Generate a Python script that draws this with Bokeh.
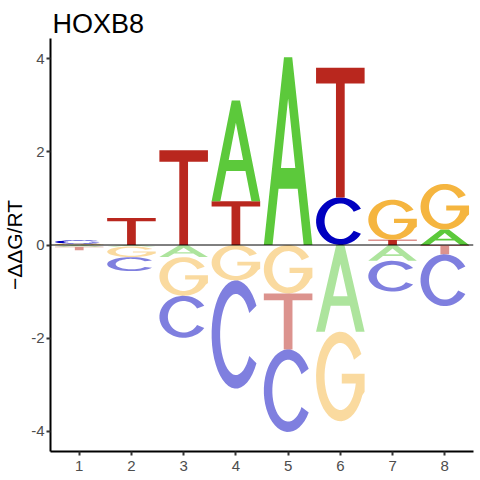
import numpy as np
from bokeh.plotting import figure
from bokeh.models import ColumnDataSource, Span, Range1d, FixedTicker
from bokeh.embed import file_html
from bokeh.resources import INLINE

# ---- data ----
positions = [1, 2, 3, 4, 5, 6, 7, 8]
A = [-0.04, -0.03, -0.26, 2.16, 4.03, -1.86, -0.34, 0.33]
C = [0.07, -0.30, -0.90, -2.32, -1.77, 1.02, -0.66, -1.11]
G = [0.03, -0.23, -0.83, -0.76, -1.04, -1.92, 0.86, 0.98]
T = [-0.07, 0.58, 2.03, 0.94, -1.20, 2.78, 0.11, -0.20]
x_ticks = [1, 2, 3, 4, 5, 6, 7, 8]
y_ticks = [-4, -2, 0, 2, 4]
title_text = "HOXB8"
y_label = "\u2212\u0394\u0394G/RT"

colors = {"A": "#5CC93B", "C": "#0000C0", "G": "#F5B53F", "T": "#B9271E"}
values = {"A": A, "C": C, "G": G, "T": T}

# ---- letter outlines in a unit box ----
def arc(cx, cy, rx, ry, a0, a1, n=40):
    t = np.radians(np.linspace(a0, a1, n))
    return list(cx + rx * np.cos(t)), list(cy + ry * np.sin(t))

def shape(letter):
    if letter == "T":
        u = [0, 1, 1, 0.59, 0.59, 0.41, 0.41, 0]
        v = [1, 1, 0.88, 0.88, 0, 0, 0.88, 0.88]
        return [(u, v)]
    if letter == "A":
        u = [0, 0.415, 0.585, 1, 0.82, 0.697, 0.303, 0.18]
        v = [0, 1, 1, 0, 0, 0.3, 0.3, 0]
        hu = [0.352, 0.648, 0.5]
        hv = [0.41, 0.41, 0.78]
        return [(u, v), (hu, hv)]
    if letter == "C":
        ou, ov = arc(0.5, 0.5, 0.5, 0.5, 32, 328)
        iu, iv = arc(0.5, 0.5, 0.325, 0.375, 328, 32)
        return [(ou + iu, ov + iv)]
    if letter == "G":
        ou, ov = arc(0.5, 0.5, 0.5, 0.5, 30, 335)
        iu, iv = arc(0.5, 0.5, 0.325, 0.375, 348, 30)
        u = ou + [1.0, 1.0, 0.53, 0.53, 0.82] + iu
        v = ov + [0.33, 0.53, 0.53, 0.42, 0.42] + iv
        return [(u, v)]

letter_w = 0.93
xs, ys, fills, alphas = [], [], [], []
for i, pos in enumerate(positions):
    vals = [(L, values[L][i]) for L in "ACGT"]
    posv = sorted([p for p in vals if p[1] > 0], key=lambda p: p[1])
    negv = sorted([p for p in vals if p[1] < 0], key=lambda p: -p[1])
    stacks = []
    base = 0.0
    for L, val in posv:
        stacks.append((L, base, val, 1.0))
        base += val
    base = 0.0
    for L, val in negv:
        stacks.append((L, base + val, -val, 0.5))
        base += val
    for L, y0, h, a in stacks:
        rings_x, rings_y = [], []
        for (u, v) in shape(L):
            rings_x.append([pos - letter_w / 2 + uu * letter_w for uu in u])
            rings_y.append([y0 + vv * h for vv in v])
        xs.append([rings_x])
        ys.append([rings_y])
        fills.append(colors[L])
        alphas.append(a)

src = ColumnDataSource(dict(xs=xs, ys=ys, fill=fills, alpha=alphas))

p = figure(frame_width=423, frame_height=413, output_backend="svg",
           toolbar_location=None,
           x_range=Range1d(0.45, 8.55), y_range=Range1d(-4.43, 4.43),
           min_border_left=43, min_border_right=6, min_border_top=38,
           min_border_bottom=18)
p.multi_polygons(xs="xs", ys="ys", source=src, fill_color="fill",
                 fill_alpha="alpha", line_color=None)
p.add_layout(Span(location=0, dimension="width", line_color="black",
                  line_width=1))

p.title.text = title_text
p.title.text_font = "Liberation Sans"
p.title.text_font_size = "27px"
p.title.text_font_style = "normal"
p.title.text_color = "black"
p.title.standoff = 0
p.title.offset = 2

p.xgrid.visible = False
p.ygrid.visible = False
p.outline_line_color = None
p.background_fill_color = "white"
p.border_fill_color = "white"

for ax in (p.xaxis[0], p.yaxis[0]):
    ax.axis_line_color = "black"
    ax.axis_line_width = 2
    ax.major_tick_line_color = "#333333"
    ax.major_tick_line_width = 2
    ax.major_tick_out = 4
    ax.major_tick_in = 0
    ax.minor_tick_line_color = None
    ax.major_label_text_font = "Liberation Sans"
    ax.major_label_text_font_size = "15px"
    ax.major_label_text_color = "#4D4D4D"

p.xaxis.ticker = FixedTicker(ticks=x_ticks)
p.yaxis.ticker = FixedTicker(ticks=y_ticks)
p.yaxis.major_label_overrides = {t: str(t) for t in y_ticks}
p.xaxis.major_label_standoff = 5
p.yaxis.major_label_standoff = 2
p.yaxis.axis_label = y_label
p.yaxis.axis_label_text_font = "Liberation Sans"
p.yaxis.axis_label_text_font_size = "21px"
p.yaxis.axis_label_text_font_style = "normal"
p.yaxis.axis_label_text_color = "black"
p.yaxis.axis_label_standoff = 2

open("out.html", "w").write(file_html(p, INLINE))
